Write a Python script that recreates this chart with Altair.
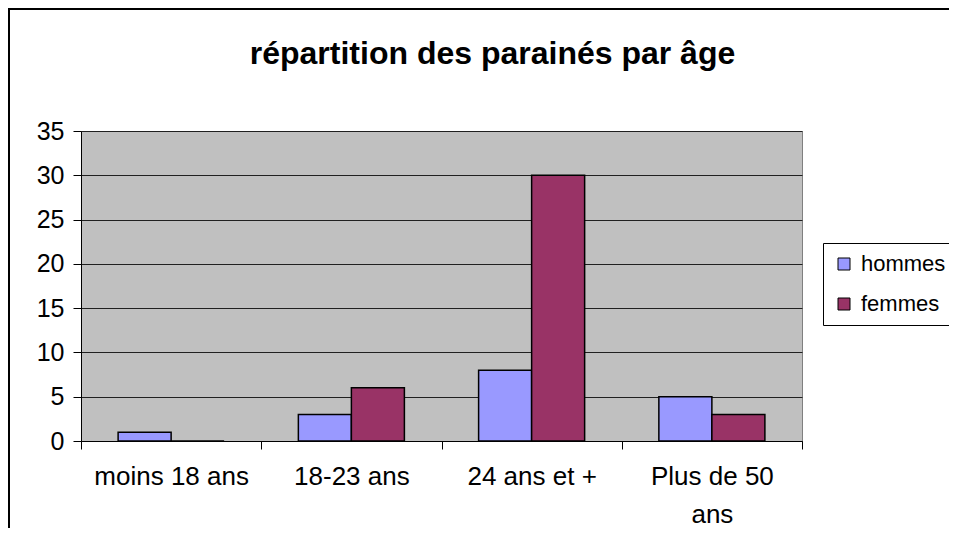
import altair as alt
import pandas as pd

categories = ["moins 18 ans", "18-23 ans", "24 ans et +", "Plus de 50 ans"]
series = ["hommes", "femmes"]
hommes = [1, 3, 8, 5]
femmes = [0, 6, 30, 3]
colors = ["#9999FF", "#993366"]
y_ticks = [0, 5, 10, 15, 20, 25, 30, 35]

rows = []
for c, h, f in zip(categories, hommes, femmes):
    rows.append({"age": c, "sexe": "hommes", "n": h})
    rows.append({"age": c, "sexe": "femmes", "n": f})
df = pd.DataFrame(rows)

W, H = 721, 310
PL, PT, PR, PB = 73, 123, 147, 87
FONT = "Liberation Sans"

bars = alt.Chart(df).mark_bar(stroke="black", strokeWidth=1.5).encode(
    x=alt.X(
        "age:N", sort=categories,
        scale=alt.Scale(paddingInner=0, paddingOuter=0),
        axis=alt.Axis(
            title=None, labelAngle=0, tickBand="extent", tickSize=8,
            labelPadding=14, labelFontSize=26, labelLineHeight=38,
            labelExpr="datum.label == 'Plus de 50 ans' ? ['Plus de 50', 'ans'] : datum.label",
        ),
    ),
    xOffset=alt.XOffset("sexe:N", sort=series,
                        scale=alt.Scale(paddingInner=0, paddingOuter=0.7)),
    y=alt.Y(
        "n:Q", scale=alt.Scale(domain=[0, 35]),
        axis=alt.Axis(title=None, values=y_ticks, grid=True, gridColor="#202020",
                      gridWidth=1, tickSize=8, labelPadding=9, labelFontSize=25),
    ),
    color=alt.Color(
        "sexe:N", sort=series,
        scale=alt.Scale(domain=series, range=colors),
        legend=alt.Legend(
            title=None, orient="none", legendX=742, legendY=112,
            strokeColor="black", fillColor="white", padding=10,
            symbolType="square", symbolSize=144, symbolStrokeColor="black",
            symbolStrokeWidth=1, symbolOpacity=1, labelFontSize=22, labelOffset=6,
            rowPadding=18, labelFont=FONT, labelColor="black",
        ),
    ),
)

border = alt.Chart(pd.DataFrame({"k": [0]})).mark_rect(
    filled=False, stroke="black", strokeWidth=2
).encode(
    x=alt.value(-PL + 1), x2=alt.value(W + PR + 3),
    y=alt.value(-PT + 1), y2=alt.value(H + PB + 3),
)

chart = alt.layer(bars, border).properties(
    width=W, height=H,
    title=alt.TitleParams(
        "répartition des parainés par âge", fontSize=32, fontWeight="bold",
        font=FONT, color="black", anchor="middle", frame="group", dx=51,
        baseline="alphabetic", offset=-88,
    ),
    autosize=alt.AutoSizeParams(type="none"),
    padding={"left": PL, "top": PT, "right": PR, "bottom": PB},
).configure_view(
    fill="#C0C0C0", stroke="#808080", strokeWidth=1
).configure_axis(
    domainColor="black", tickColor="black", labelColor="black", labelFont=FONT,
    domainWidth=1, tickWidth=1,
)

chart.save("out.html", embed_options={"renderer": "svg", "actions": False})
